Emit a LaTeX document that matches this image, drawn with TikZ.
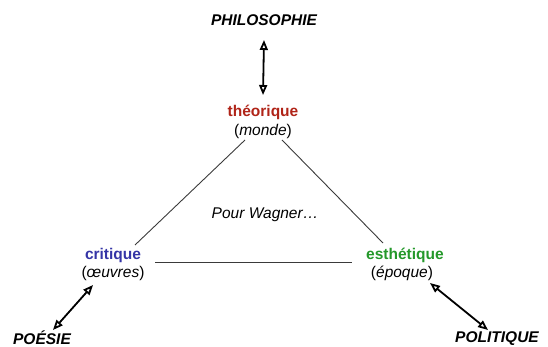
\documentclass[tikz,border=0pt]{standalone}
\usepackage{fontspec}
\setmainfont{Liberation Sans}
\usetikzlibrary{arrows.meta,calc}
\definecolor{theoc}{HTML}{B02418}
\definecolor{critc}{HTML}{3434A6}
\definecolor{esthc}{HTML}{24982A}
\definecolor{linec}{HTML}{3A3A3A}
\tikzset{
  lbl/.style={inner sep=0pt, font=\fontsize{15.5}{17}\selectfont},
  pole/.style={lbl, font=\fontsize{15.5}{17}\selectfont\bfseries\itshape},
  dbl/.style={line width=1.8pt, {Triangle[open,length=10pt,width=8pt]}-{Triangle[open,length=10pt,width=8pt]}},
  side/.style={line width=0.9pt, draw=linec}
}
\begin{document}
\begin{tikzpicture}[x=1pt,y=1pt]
\useasboundingbox (0,0) rectangle (548,347);
\node[pole] (phil) at (264,327) {PHILOSOPHIE};
\node[lbl, text=theoc, font=\fontsize{15.5}{17}\selectfont\bfseries] (theo) at (263,235) {théorique};
\node[lbl] (monde) at (263,216) {(\textit{monde})};
\node[lbl, text=critc, font=\fontsize{15.5}{17}\selectfont\bfseries] (crit) at (113,92) {critique};
\node[lbl] (oeuv) at (113,74) {(\textit{œuvres})};
\node[lbl, text=esthc, font=\fontsize{15.5}{17}\selectfont\bfseries] (esth) at (405,92) {esthétique};
\node[lbl] (epoq) at (402,74) {(\textit{époque})};
\node[pole] (poes) at (42,9) {POÉSIE};
\node[pole] (poli) at (497,8) {POLITIQUE};
\node[lbl, font=\fontsize{15.5}{17}\selectfont\itshape] (wag) at (265,132) {Pour Wagner…};
\draw[dbl] ($(phil)+(0,-20)$) -- ($(theo)+(0,17)$);
\draw[dbl] ($(oeuv)+(-20,-12)$) -- ($(poes)+(11,8)$);
\draw[dbl] ($(epoq)+(28,-10)$) -- ($(poli)+(-9,9)$);
\draw[side] ($(monde)+(-18,-9)$) -- ($(crit)+(22,10)$);
\draw[side] ($(monde)+(19,-9)$) -- ($(esth)+(-22,12)$);
\draw[side] ($(crit)+(42,-7)$) -- ($(esth)+(-53,-7)$);
\end{tikzpicture}
\end{document}
